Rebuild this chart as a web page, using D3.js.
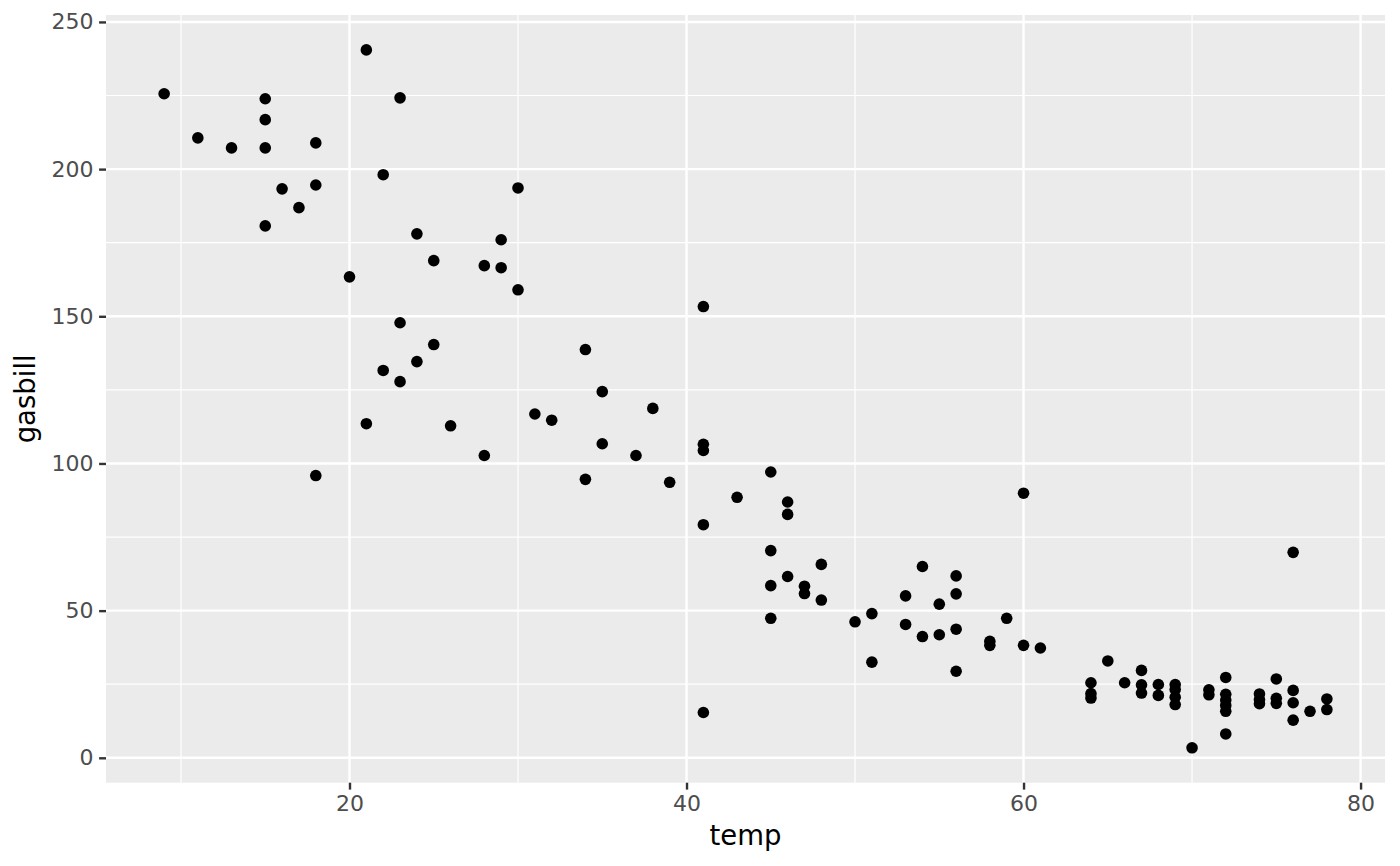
<!DOCTYPE html>
<html>
<head>
<meta charset="utf-8">
<script src="https://cdn.jsdelivr.net/npm/d3@7"></script>
<style>
  html, body { margin: 0; padding: 0; background: #ffffff; }
  svg { display: block; }
</style>
</head>
<body>
<script>
// ---- data ----
const temp = [
  9, 11, 13, 15, 15, 15, 15, 16, 17, 18, 18, 18, 20, 21, 21, 22, 22, 23, 23, 23,
  24, 24, 25, 25, 26, 28, 28, 29, 29, 30, 30, 31, 32, 34, 34, 35, 35, 37, 38, 39,
  41, 41, 41, 41, 41, 43, 45, 45, 45, 45, 46, 46, 46, 47, 47, 48, 48, 50, 51, 51,
  53, 53, 54, 54, 55, 55, 56, 56, 56, 56, 58, 58, 59, 60, 60, 61, 64, 64, 64, 65,
  66, 67, 67, 67, 68, 68, 69, 69, 69, 69, 70, 71, 71, 72, 72, 72, 72, 72, 72, 74,
  74, 74, 75, 75, 75, 76, 76, 76, 76, 77, 78, 78
];
const gasbill = [
  225.6, 210.6, 207.2, 223.9, 216.8, 207.2, 180.7, 193.3, 186.9, 208.9, 194.6, 95.9, 163.4, 240.5, 113.5, 198.1, 131.6, 224.2, 147.8, 127.8,
  178.0, 134.6, 168.9, 140.4, 112.8, 167.2, 102.7, 176.0, 166.5, 193.6, 159.0, 116.8, 114.7, 138.7, 94.6, 124.4, 106.7, 102.7, 118.7, 93.6,
  153.3, 106.5, 104.4, 79.2, 15.4, 88.5, 97.1, 70.4, 58.5, 47.4, 86.9, 82.7, 61.6, 58.3, 55.8, 65.7, 53.6, 46.2, 49.0, 32.5,
  55.0, 45.3, 65.0, 41.2, 52.2, 41.8, 61.8, 55.7, 43.7, 29.4, 39.6, 38.2, 47.4, 89.9, 38.2, 37.3, 25.5, 21.8, 20.3, 32.9,
  25.5, 29.7, 24.8, 22.0, 24.9, 21.2, 24.9, 23.2, 20.6, 18.1, 3.4, 23.1, 21.4, 27.3, 21.6, 19.6, 17.8, 15.8, 8.1, 21.7,
  19.8, 18.4, 26.8, 20.2, 18.5, 69.8, 22.9, 18.7, 12.8, 15.8, 20.0, 16.4
];
const xTicks = [20, 40, 60, 80];
const xMinor = [10, 30, 50, 70];
const yTicks = [0, 50, 100, 150, 200, 250];
const yMinor = [25, 75, 125, 175, 225];
const xTitle = "temp";
const yTitle = "gasbill";

// ---- layout ----
const W = 1400, H = 866;
const panel = { left: 106, right: 1385, top: 15, bottom: 782.7 };

const svg = d3.select("body").append("svg")
  .attr("width", W).attr("height", H)
  .attr("font-family", "DejaVu Sans, sans-serif");

function expand(ext, f) {
  const s = ext[1] - ext[0];
  return [ext[0] - s * f, ext[1] + s * f];
}
const x = d3.scaleLinear().domain(expand(d3.extent(temp), 0.05)).range([panel.left, panel.right]);
const y = d3.scaleLinear().domain(expand(d3.extent(gasbill), 0.05)).range([panel.bottom, panel.top]);

// panel background
svg.append("rect")
  .attr("x", panel.left).attr("y", panel.top)
  .attr("width", panel.right - panel.left).attr("height", panel.bottom - panel.top)
  .attr("fill", "#EBEBEB");

const grid = svg.append("g");
// minor grid
grid.selectAll(".xminor").data(xMinor).join("line")
  .attr("x1", d => x(d)).attr("x2", d => x(d))
  .attr("y1", panel.top).attr("y2", panel.bottom)
  .attr("stroke", "#ffffff").attr("stroke-width", 1.2);
grid.selectAll(".yminor").data(yMinor).join("line")
  .attr("y1", d => y(d)).attr("y2", d => y(d))
  .attr("x1", panel.left).attr("x2", panel.right)
  .attr("stroke", "#ffffff").attr("stroke-width", 1.2);
// major grid
grid.selectAll(".xmajor").data(xTicks).join("line")
  .attr("x1", d => x(d)).attr("x2", d => x(d))
  .attr("y1", panel.top).attr("y2", panel.bottom)
  .attr("stroke", "#ffffff").attr("stroke-width", 2.4);
grid.selectAll(".ymajor").data(yTicks).join("line")
  .attr("y1", d => y(d)).attr("y2", d => y(d))
  .attr("x1", panel.left).attr("x2", panel.right)
  .attr("stroke", "#ffffff").attr("stroke-width", 2.4);

// points
svg.append("g").selectAll("circle")
  .data(temp.map((t, i) => ({ t, g: gasbill[i] })))
  .join("circle")
  .attr("cx", d => x(d.t))
  .attr("cy", d => y(d.g))
  .attr("r", 5.8)
  .attr("fill", "#000000");

// axes
const xAxis = d3.axisBottom(x).tickValues(xTicks).tickSize(6.9).tickPadding(5.5).tickFormat(d3.format("d"));
const yAxis = d3.axisLeft(y).tickValues(yTicks).tickSize(6.9).tickPadding(5.5).tickFormat(d3.format("d"));

const gx = svg.append("g").attr("transform", `translate(0,${panel.bottom})`).call(xAxis);
const gy = svg.append("g").attr("transform", `translate(${panel.left},0)`).call(yAxis);
[gx, gy].forEach(g => {
  g.select(".domain").remove();
  g.selectAll(".tick line").attr("stroke", "#333333").attr("stroke-width", 2.4);
  g.selectAll(".tick text")
    .attr("fill", "#4D4D4D")
    .attr("font-size", 22)
    .attr("font-family", "DejaVu Sans, sans-serif");
});

// axis titles
svg.append("text")
  .attr("x", (panel.left + panel.right) / 2)
  .attr("y", 845)
  .attr("text-anchor", "middle")
  .attr("font-size", 27.5)
  .attr("fill", "#000000")
  .text(xTitle);

svg.append("text")
  .attr("transform", `translate(35,${(panel.top + panel.bottom) / 2}) rotate(-90)`)
  .attr("text-anchor", "middle")
  .attr("font-size", 27.5)
  .attr("fill", "#000000")
  .text(yTitle);
</script>
</body>
</html>
